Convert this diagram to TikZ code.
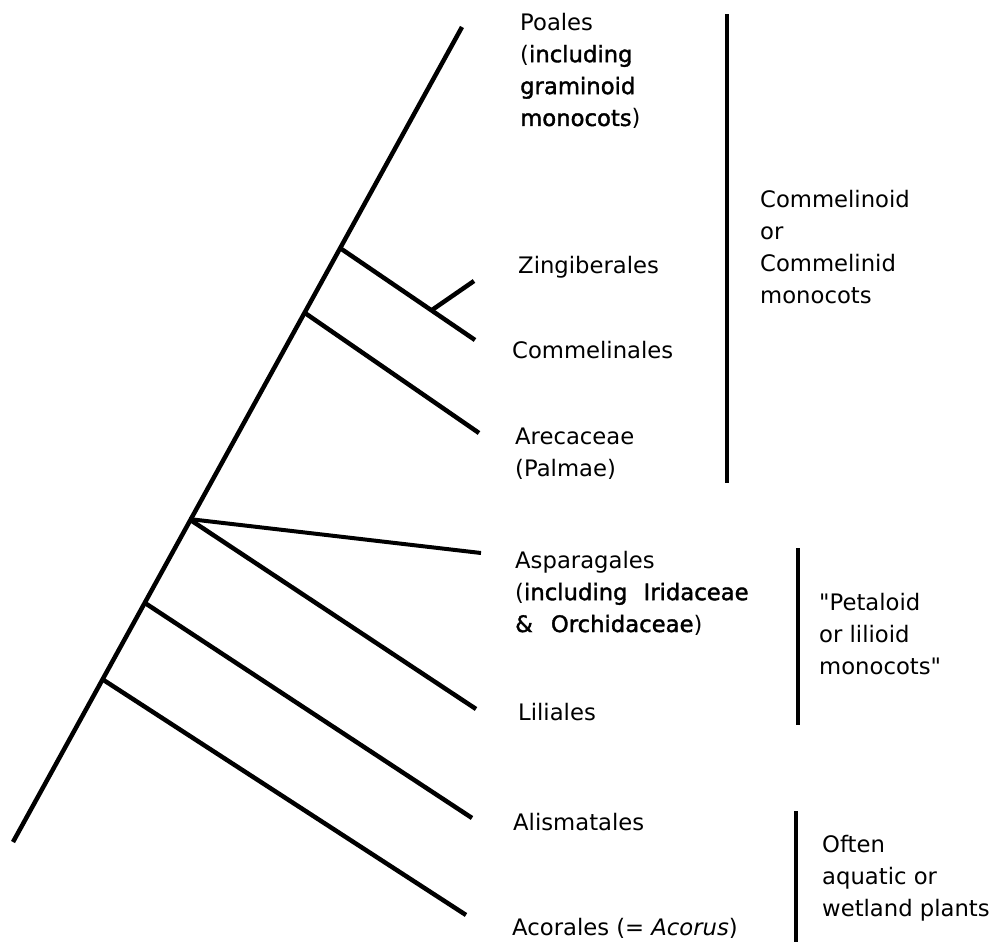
\documentclass[tikz,border=0pt]{standalone}
\usepackage{fontspec}
\setmainfont{DejaVu Sans}
\newfontfamily\heavy{DejaVu Sans}[FakeBold=1.6]

\begin{document}
\begin{tikzpicture}[x=1bp, y=-1bp,
  branch/.style={black, line width=4.5},
  bar/.style={black, line width=4.2},
  taxon/.style={anchor=west, align=left, inner sep=0pt, font=\fontsize{22.8}{32}\selectfont}]
\useasboundingbox (0,0) rectangle (1005,948);
\coordinate (root) at (13,842);
\coordinate (crown) at (462,27);
\coordinate (n1) at (340,248);
\coordinate (n2) at (305,313);
\coordinate (n3) at (189,519);
\coordinate (n4) at (145,603);
\coordinate (n5) at (102,679);
\coordinate (zc) at (432,310);
\coordinate (zingiberales) at (474,281);
\coordinate (commelinales) at (475,340);
\coordinate (arecaceae) at (479,433);
\coordinate (asparagales) at (481,553);
\coordinate (liliales) at (476,709);
\coordinate (alismatales) at (472,818);
\coordinate (acorales) at (466,915);
\draw[branch] (root) -- (crown);
\draw[branch] (n1) -- (commelinales);
\draw[branch] (zc) -- (zingiberales);
\draw[branch] (n2) -- (arecaceae);
\draw[branch, line width=4] (n3) -- (asparagales);
\draw[branch] (n3) -- (liliales);
\draw[branch] (n4) -- (alismatales);
\draw[branch] (n5) -- (acorales);
\draw[bar] (727,14) -- (727,483);
\draw[bar] (798,548) -- (798,725);
\draw[bar] (796,811) -- (796,942);
\node[taxon] (poales) at (520,71) {Poales\\({\heavy including}\\{\heavy graminoid}\\{\heavy monocots})};
\node[taxon] (zingib) at (518,267) {Zingiberales};
\node[taxon] (commel) at (512,350) {Commelinales};
\node[taxon] (areca) at (515,454) {Arecaceae\\(Palmae)};
\node[taxon] (aspar) at (515,593) {Asparagales\\({\heavy including\hspace{16bp}Iridaceae}\\{\heavy \&\hspace{18bp}Orchidaceae})};
\node[taxon] (lilia) at (518,712) {Liliales};
\node[taxon] (alism) at (513,822) {Alismatales};
\node[taxon] (acora) at (512,928) {Acorales (= \textit{Acorus})};
\node[taxon] (commelinoid) at (760,247) {Commelinoid\\or\\Commelinid\\monocots};
\node[taxon] (petaloid) at (819,634) {\textquotedbl Petaloid\\or lilioid\\monocots\textquotedbl};
\node[taxon] (aquatic) at (822,878) {Often\\aquatic or\\wetland plants};
\end{tikzpicture}
\end{document}
